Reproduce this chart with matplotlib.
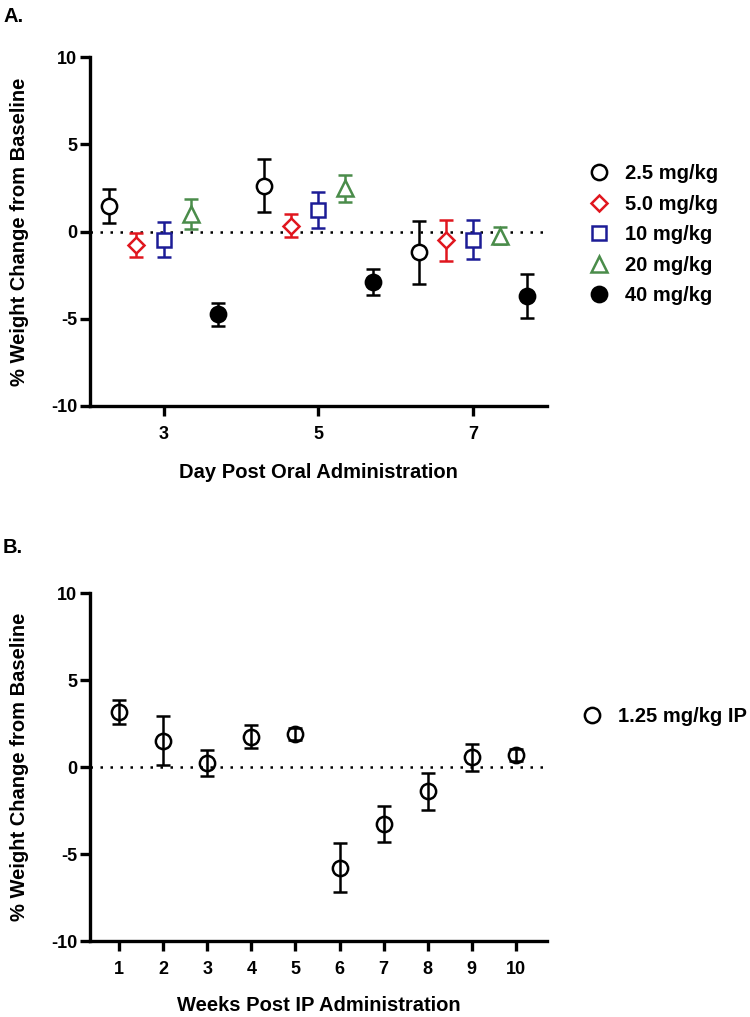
import matplotlib
matplotlib.use("Agg")
import matplotlib.pyplot as plt
from matplotlib.lines import Line2D

plt.rcParams['font.family'] = ['Liberation Sans', 'DejaVu Sans']
plt.rcParams['font.weight'] = 'bold'
plt.rcParams['axes.unicode_minus'] = False

# ---------------- Panel A data ----------------
days = [3, 5, 7]
dose_labels = ["2.5 mg/kg", "5.0 mg/kg", "10 mg/kg", "20 mg/kg", "40 mg/kg"]
offsets = [-0.7, -0.35, 0.0, 0.35, 0.7]
mean_25 = [1.46, 2.64, -1.19]
sem_25 = [0.97, 1.52, 1.80]
mean_50 = [-0.79, 0.34, -0.50]
sem_50 = [0.68, 0.66, 1.17]
mean_10 = [-0.46, 1.23, -0.46]
sem_10 = [1.00, 1.05, 1.10]
mean_20 = [1.00, 2.49, -0.23]
sem_20 = [0.87, 0.77, 0.48]
mean_40 = [-4.75, -2.91, -3.70]
sem_40 = [0.67, 0.75, 1.25]

# ---------------- Panel B data ----------------
weeks = [1, 2, 3, 4, 5, 6, 7, 8, 9, 10]
mean_ip = [3.16, 1.53, 0.23, 1.76, 1.90, -5.79, -3.28, -1.40, 0.57, 0.71]
sem_ip = [0.69, 1.39, 0.73, 0.67, 0.36, 1.40, 1.04, 1.05, 0.78, 0.34]
ip_label = "1.25 mg/kg IP"

colors = ["black", "#E0161E", "#1C1C96", "#4A8C4A", "black"]
markers = ["o", "D", "s", "^", "o"]
msizes = [11, 8.5, 10.5, 11, 11]
filled = [False, False, False, False, True]

TICK_FS = 13
LAB_FS = 14.5
LEG_FS = 14.5

fig = plt.figure(figsize=(7.5, 10.17), dpi=100)
axA = fig.add_axes([0.12, 0.6008, 0.609, 0.343])
axB = fig.add_axes([0.12, 0.0747, 0.609, 0.342])

def style(ax):
    for s in ["top", "right"]:
        ax.spines[s].set_visible(False)
    for s in ["left", "bottom"]:
        ax.spines[s].set_linewidth(2.4)
    ax.tick_params(width=2.4, length=7.5, labelsize=TICK_FS, direction="out")
    ax.tick_params(axis="y", pad=1.5)
    ax.tick_params(axis="x", pad=7)
    for lab in ax.get_xticklabels() + ax.get_yticklabels():
        lab.set_fontweight("bold")
    ax.set_ylim(-10, 10)
    ax.set_yticks([-10, -5, 0, 5, 10])
    ax.axhline(0, color="black", linestyle=(0, (1, 3)), linewidth=1.8, zorder=0)
    ax.set_ylabel("% Weight Change from Baseline", fontsize=LAB_FS, fontweight="bold")
    ax.yaxis.set_label_coords(-0.133, 0.5)

series = [(mean_25, sem_25), (mean_50, sem_50), (mean_10, sem_10), (mean_20, sem_20), (mean_40, sem_40)]
handles = []
for i, (m, s) in enumerate(series):
    xs = [d + offsets[i] for d in days]
    axA.errorbar(xs, m, yerr=s, fmt="none", ecolor=colors[i], elinewidth=1.8,
                 capsize=5, capthick=1.8, zorder=2)
    axA.plot(xs, m, linestyle="none", marker=markers[i], markersize=msizes[i],
             markerfacecolor=colors[i] if filled[i] else "white",
             markeredgecolor=colors[i], markeredgewidth=1.8, zorder=3)
    handles.append(Line2D([], [], linestyle="none", marker=markers[i], markersize=msizes[i],
                          markerfacecolor=colors[i] if filled[i] else "white",
                          markeredgecolor=colors[i], markeredgewidth=1.8))
axA.set_xlim(2.05, 7.95)
axA.set_xticks(days)
style(axA)
axA.set_xlabel("Day Post Oral Administration", fontsize=LAB_FS, fontweight="bold", labelpad=14)
axA.legend(handles, dose_labels, loc="upper left", bbox_to_anchor=(1.05, 0.745),
           frameon=False, prop={"weight": "bold", "size": LEG_FS},
           handletextpad=0.75, labelspacing=0.57, handlelength=1.1)

axB.errorbar(weeks, mean_ip, yerr=sem_ip, fmt="none", ecolor="black", elinewidth=1.8,
             capsize=5, capthick=1.8, zorder=2)
axB.plot(weeks, mean_ip, linestyle="none", marker="o", markersize=11,
         markerfacecolor="none", markeredgecolor="black", markeredgewidth=1.8, zorder=3)
axB.set_xlim(0.34, 10.7)
axB.set_xticks(weeks)
style(axB)
axB.set_xlabel("Weeks Post IP Administration", fontsize=LAB_FS, fontweight="bold", labelpad=13)
hB = Line2D([], [], linestyle="none", marker="o", markersize=11, markerfacecolor="white",
            markeredgecolor="black", markeredgewidth=1.8)
axB.legend([hB], [ip_label], loc="upper left", bbox_to_anchor=(1.035, 0.725),
           frameon=False, prop={"weight": "bold", "size": LEG_FS},
           handletextpad=0.75, handlelength=1.1)

fig.text(0.004, 0.993, "A.", fontsize=14.5, fontweight="bold", va="top", ha="left")
fig.text(0.004, 0.471, "B.", fontsize=14.5, fontweight="bold", va="top", ha="left")

fig.savefig("out.png", dpi=100)
